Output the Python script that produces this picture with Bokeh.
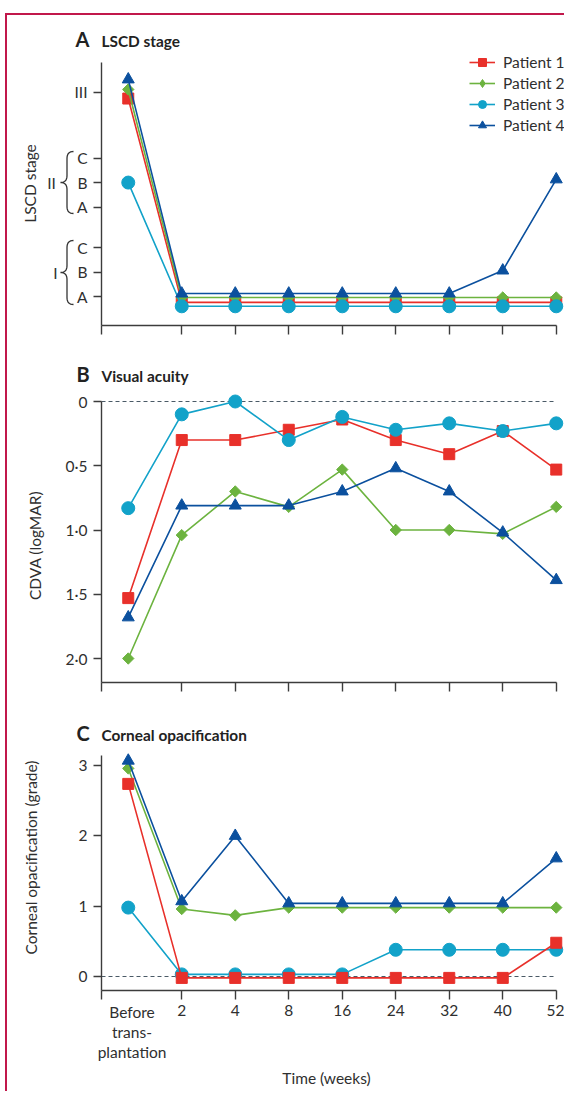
import math
from bokeh.plotting import figure
from bokeh.models import Range1d, FixedTicker, Label, Legend, LegendItem, PolyAnnotation
from bokeh.layouts import column
from bokeh.embed import file_html
from bokeh.resources import INLINE

# ---------------- data ----------------
time_labels = ["Before\ntrans-\nplantation", "2", "4", "8", "16", "24", "32", "40", "52"]
x_idx = [0, 1, 2, 3, 4, 5, 6, 7, 8]

patients = ["Patient 1", "Patient 2", "Patient 3", "Patient 4"]
colors = ["#e8302a", "#6cb33f", "#12a2c9", "#0b509e"]

# A: LSCD stage (I-A..I-C, II-A..II-C, III on a numeric scale)
stage_ticks = [1, 2, 3, 4.65, 5.65, 6.65, 9.33]
stage_tick_labels = ["A", "B", "C", "A", "B", "C", "III"]
lscd_p1 = [9.08, 0.76, 0.76, 0.76, 0.76, 0.76, 0.76, 0.76, 0.76]
lscd_p2 = [9.45, 0.96, 0.96, 0.96, 0.96, 0.96, 0.96, 0.96, 0.96]
lscd_p3 = [5.65, 0.60, 0.60, 0.60, 0.60, 0.60, 0.60, 0.60, 0.60]
lscd_p4 = [9.86, 1.12, 1.12, 1.12, 1.12, 1.12, 1.12, 2.06, 5.78]

# B: CDVA (logMAR)
cdva_ticks = [0, 0.5, 1.0, 1.5, 2.0]
cdva_tick_labels = ["0", "0·5", "1·0", "1·5", "2·0"]
cdva_p1 = [1.53, 0.30, 0.30, 0.22, 0.14, 0.30, 0.41, 0.23, 0.53]
cdva_p2 = [2.00, 1.04, 0.70, 0.82, 0.53, 1.00, 1.00, 1.03, 0.82]
cdva_p3 = [0.83, 0.10, 0.00, 0.30, 0.12, 0.22, 0.17, 0.23, 0.17]
cdva_p4 = [1.68, 0.81, 0.81, 0.81, 0.70, 0.52, 0.70, 1.02, 1.39]

# C: corneal opacification grade
opac_ticks = [0, 1, 2, 3]
opac_tick_labels = ["0", "1", "2", "3"]
opac_p1 = [2.74, -0.02, -0.02, -0.02, -0.02, -0.02, -0.02, -0.02, 0.48]
opac_p2 = [2.96, 0.96, 0.87, 0.98, 0.98, 0.98, 0.98, 0.98, 0.98]
opac_p3 = [0.98, 0.03, 0.03, 0.03, 0.03, 0.38, 0.38, 0.38, 0.38]
opac_p4 = [3.07, 1.07, 2.00, 1.04, 1.04, 1.04, 1.04, 1.04, 1.68]

# ---------------- style / layout ----------------
FONT = "Lato"
TXT = "#2f2f2f"
AX = "#3c3c3c"
PAGE_L = 7               # page x where the figures start
W = 557                  # figure width
FRAME_L = 101            # page x of the y-axis spine
PX_PER_X = 53.5          # pixels per time step
X_START = -0.5
NAN = float("nan")


def px_x(px):
    return X_START + (px - FRAME_L) / PX_PER_X


def make_fig(fig_top, fig_bot, conv, y_ticks, y_labels, spine_top, spine_bot, show_x_labels):
    p = figure(frame_width=W, frame_height=fig_bot - fig_top, title=None,
               x_range=Range1d(px_x(PAGE_L), px_x(PAGE_L + W)),
               y_range=Range1d(conv(fig_bot), conv(fig_top)),
               output_backend="svg", toolbar_location=None,
               min_border_left=0, min_border_right=0, min_border_top=0, min_border_bottom=0)
    p.grid.visible = False
    p.outline_line_color = None
    p.background_fill_color = None
    p.border_fill_color = None

    xa = p.xaxis[0]
    xa.fixed_location = conv(spine_bot)
    xa.ticker = FixedTicker(ticks=[X_START] + x_idx[1:])
    over = {X_START: ""}
    for i, t in zip(x_idx[1:], time_labels[1:]):
        over[i] = t if show_x_labels else ""
    xa.major_label_overrides = over
    xa.bounds = (X_START, x_idx[-1])
    xa.axis_line_color = AX
    xa.axis_line_width = 1.4
    xa.major_tick_line_color = AX
    xa.major_tick_line_width = 1.4
    xa.major_tick_out = 9
    xa.major_tick_in = 0
    xa.minor_tick_line_color = None
    xa.major_label_standoff = 5
    xa.major_label_text_font = FONT
    xa.major_label_text_font_size = "15.5px"
    xa.major_label_text_color = TXT if show_x_labels else None

    ya = p.yaxis[0]
    ya.fixed_location = X_START
    ya.ticker = FixedTicker(ticks=y_ticks)
    ya.major_label_overrides = {t: l for t, l in zip(y_ticks, y_labels)}
    ya.bounds = (min(conv(spine_bot), conv(spine_top)), max(conv(spine_bot), conv(spine_top)))
    ya.axis_line_color = AX
    ya.axis_line_width = 1.4
    ya.major_tick_line_color = AX
    ya.major_tick_line_width = 1.4
    ya.major_tick_out = 8
    ya.major_tick_in = 0
    ya.minor_tick_line_color = None
    ya.major_label_standoff = 6
    ya.major_label_text_font = FONT
    ya.major_label_text_color = TXT
    ya.major_label_text_font_size = "15.5px"
    return p


def draw_series(p, series, order):
    rends = {}
    for k in order:
        ys = series[k]
        c = colors[k]
        lr = p.line(x_idx, ys, line_color=c, line_width=1.6)
        if k == 0:
            sr = p.scatter(x_idx, ys, marker="square", size=11, fill_color=c, line_color=c)
        elif k == 1:
            sr = p.scatter(x_idx, ys, marker="square", size=8, angle=0.785398, fill_color=c, line_color=c)
        elif k == 2:
            sr = p.scatter(x_idx, ys, marker="circle", size=13, fill_color=c, line_color=c)
        else:
            sr = p.scatter(x_idx, ys, marker="triangle", size=12, fill_color=c, line_color=c)
        rends[k] = (lr, sr)
    return rends


def text(p, px, y, s, size="15.5px", bold=False, align="left", baseline="middle",
         angle=0.0, color=TXT, lh=1.2):
    p.add_layout(Label(x=px_x(px), y=y, text=s, text_font=FONT,
                       text_font_style="bold" if bold else "normal", text_font_size=size,
                       text_color=color, text_align=align, text_baseline=baseline,
                       angle=angle, text_line_height=lh))


def title(p, letter, s, x_letter, conv, ymid):
    text(p, x_letter, conv(ymid - 1.5), letter, size="20px", bold=True, color="#222222")
    text(p, 101, conv(ymid), s, size="15.4px", bold=True, color="#222222")


def zero_line(p):
    p.line([X_START, x_idx[-1]], [0, 0], line_color="#4a5a66", line_width=1, line_dash="4 3")


# ---------------- panel A ----------------
def a_y(py):
    return 1 + (296 - py) / 24.5

pA = make_fig(15, 345, a_y, stage_ticks, stage_tick_labels, 62, 325, False)
rA = draw_series(pA, [lscd_p1, lscd_p2, lscd_p3, lscd_p4], [0, 1, 2, 3])
title(pA, "A", "LSCD stage", 75, a_y, 40)
text(pA, 29, a_y(183), "LSCD stage", align="center", angle=math.pi / 2)


def brace(p, y_top_px, y_bot_px, conv):
    xr, xb, xt = 73, 66.5, 60
    ym = (y_top_px + y_bot_px) / 2.0
    pts = []

    def quad(p0, c, p1, n=8):
        out = []
        for i in range(n + 1):
            t = i / n
            x = (1 - t) ** 2 * p0[0] + 2 * (1 - t) * t * c[0] + t ** 2 * p1[0]
            y = (1 - t) ** 2 * p0[1] + 2 * (1 - t) * t * c[1] + t ** 2 * p1[1]
            out.append((x, y))
        return out

    pts += quad((xr, y_top_px), (xb, y_top_px), (xb, y_top_px + 7))
    pts += quad((xb, ym - 7), (xb, ym), (xt, ym))
    pts += quad((xt, ym), (xb, ym), (xb, ym + 7))
    pts += quad((xb, y_bot_px - 7), (xb, y_bot_px), (xr, y_bot_px))
    path = pts + pts[::-1]
    xs = [px_x(a) for a, b in path]
    ys = [conv(b) for a, b in path]
    p.add_layout(PolyAnnotation(xs=xs, ys=ys, line_color="#333333", line_width=1.3,
                                fill_alpha=0, line_alpha=1))


brace(pA, 151, 213, a_y)
brace(pA, 240, 304, a_y)
text(pA, 51, a_y(182), "II", align="center")
text(pA, 55, a_y(272), "I", align="center")

# legend: a diamond stand-in (no points) so that the legend key shows a diamond
p2_key = pA.scatter([NAN], [NAN], marker="diamond", size=12, fill_color=colors[1], line_color=colors[1])
keys = [list(rA[0]), [rA[1][0], p2_key], list(rA[2]), list(rA[3])]
items = [LegendItem(label=patients[k], renderers=keys[k]) for k in range(4)]
leg = Legend(items=items, location=(469 - PAGE_L, 345 - 135), background_fill_alpha=0,
             border_line_alpha=0, padding=0, margin=0, spacing=1, glyph_width=26,
             glyph_height=20, label_height=20, label_standoff=8, label_text_font=FONT,
             label_text_font_size="15.5px", label_text_color=TXT)
pA.add_layout(leg)

# ---------------- panel B ----------------
def b_y(py):
    return (py - 401) / 128.5

pB = make_fig(345, 700, b_y, cdva_ticks, cdva_tick_labels, 401, 682, False)
zero_line(pB)
draw_series(pB, [cdva_p1, cdva_p2, cdva_p3, cdva_p4], [1, 3, 0, 2])
title(pB, "B", "Visual acuity", 76, b_y, 375)
text(pB, 34, b_y(545), "CDVA (logMAR)", align="center", angle=math.pi / 2)

# ---------------- panel C ----------------
def c_y(py):
    return (976 - py) / 70.3

pC = make_fig(700, 1091, c_y, opac_ticks, opac_tick_labels, 755, 990, True)
zero_line(pC)
draw_series(pC, [opac_p1, opac_p2, opac_p3, opac_p4], [2, 1, 3, 0])
title(pC, "C", "Corneal opacification", 76, c_y, 734)
text(pC, 30, c_y(857), "Corneal opacification (grade)", align="center", angle=math.pi / 2)
text(pC, 131.5, c_y(1002), time_labels[0], align="center", baseline="top", lh=1.13)
text(pC, 326, c_y(1077), "Time (weeks)", align="center")

layout = column(pA, pB, pC, spacing=0,
                styles={"border-left": "2px solid #c1184b", "border-top": "2px solid #c1184b",
                        "margin-left": "5px", "margin-top": "13px"})

open("out.html", "w").write(file_html(layout, INLINE))
